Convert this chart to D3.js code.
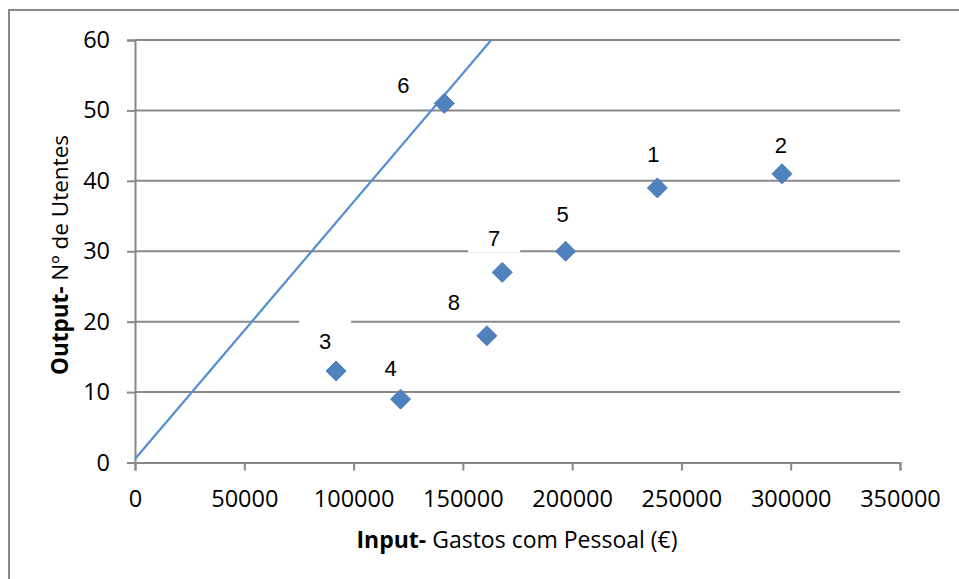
<!DOCTYPE html>
<html>
<head>
<meta charset="utf-8">
<script src="https://cdn.jsdelivr.net/npm/d3@7"></script>
<style>
  body { margin: 0; background: #fff; }
  svg { display: block; }
</style>
</head>
<body>
<div class="content"></div>
<script>
// data
const dmuNames = ['1', '2', '3', '4', '5', '6', '7', '8'];
const gastos = [239000, 296000, 92000, 121500, 197000, 141500, 168000, 161000];
const utentes = [39, 41, 13, 9, 30, 51, 27, 18];
const frontierX = [0, 163000];
const frontierY = [0.5, 60];
const xTicks = [0, 50000, 100000, 150000, 200000, 250000, 300000, 350000];
const yTicks = [0, 10, 20, 30, 40, 50, 60];

function main() {
  // svg settings
  const svgW = 959, svgH = 579;
  const svg = d3.select('.content').append('svg')
                                .attr('width', svgW)
                                .attr('height', svgH);
  const left = 135, right = 900, top = 40, bottom = 462.5;

  // outer frame of the chart
  svg.append('rect')
      .attr('x', 9).attr('y', 10)
      .attr('width', 960).attr('height', 580)
      .attr('fill', 'none')
      .attr('stroke', '#888')
      .attr('stroke-width', 2);

  const scaleX = d3.scaleLinear().domain([0, 350000]).range([left, right]);
  const scaleY = d3.scaleLinear().domain([0, 60]).range([bottom, top]);

  // horizontal gridlines
  svg.append('g').selectAll('line').data(yTicks.filter(d => d > 0)).enter()
      .append('line')
      .attr('x1', left).attr('x2', right)
      .attr('y1', d => scaleY(d)).attr('y2', d => scaleY(d))
      .attr('stroke', '#888').attr('stroke-width', 2);

  // axes
  const gx = svg.append('g')
      .attr('transform', 'translate(0,' + bottom + ')')
      .call(d3.axisBottom(scaleX).tickValues(xTicks).tickSize(8).tickPadding(15).tickFormat(d3.format('d')));
  const gy = svg.append('g')
      .attr('transform', 'translate(' + left + ',0)')
      .call(d3.axisLeft(scaleY).tickValues(yTicks).tickSize(8).tickPadding(17));
  [gx, gy].forEach(g => {
    g.select('.domain').attr('stroke', '#888').attr('stroke-width', 2);
    g.selectAll('.tick line').attr('stroke', '#888').attr('stroke-width', 2);
    g.selectAll('.tick text')
      .attr('font-family', 'Open Sans, sans-serif')
      .attr('font-size', 23.5)
      .attr('fill', '#000');
  });
  gx.selectAll('.tick text').attr('dy', '0.9em');

  // frontier line
  const frontier = frontierX.map((x, i) => [x, frontierY[i]]);
  svg.append('path').datum(frontier)
      .attr('d', d3.line().x(d => scaleX(d[0])).y(d => scaleY(d[1])))
      .attr('stroke', '#558ED5')
      .attr('stroke-width', 2.2)
      .attr('fill', 'none');

  // labels, manually placed like in the original
  const labelDx = [-4, -1, -11, -10, -3, -41, -8, -33];
  const labelDy = [-34, -29, -30, -31, -37, -18, -34, -34];
  const labelBox = [false, false, true, false, false, false, true, false];
  const pts = dmuNames.map((n, i) => ({ n, x: gastos[i], y: utentes[i], i }));

  const lab = svg.append('g').selectAll('g').data(pts).enter().append('g')
      .attr('transform', d => 'translate(' + (scaleX(d.x) + labelDx[d.i]) + ',' + (scaleY(d.y) + labelDy[d.i]) + ')');
  lab.filter(d => labelBox[d.i]).append('rect')
      .attr('x', -26).attr('y', -22).attr('width', 52).attr('height', 36)
      .attr('fill', '#fff');
  lab.append('text')
      .attr('text-anchor', 'middle')
      .attr('dy', '0.36em')
      .attr('font-family', 'Liberation Sans, Arial, sans-serif')
      .attr('font-size', 22)
      .text(d => d.n);

  // diamond markers
  svg.append('g').selectAll('path').data(pts).enter().append('path')
      .attr('d', 'M0,-10L10,0L0,10L-10,0Z')
      .attr('transform', d => 'translate(' + scaleX(d.x) + ',' + scaleY(d.y) + ')')
      .attr('fill', '#4F81BD')
      .attr('stroke', '#4A7EBB')
      .attr('stroke-width', 1);

  // axis titles
  const xt = svg.append('text')
      .attr('x', 517).attr('y', 548)
      .attr('text-anchor', 'middle')
      .attr('font-family', 'Open Sans, sans-serif')
      .attr('font-size', 23);
  xt.append('tspan').attr('font-weight', 'bold').text('Input-');
  xt.append('tspan').text(' Gastos com Pessoal (€)');

  const yt = svg.append('text')
      .attr('transform', 'translate(68,' + 255 + ') rotate(-90)')
      .attr('text-anchor', 'middle')
      .attr('font-family', 'Open Sans, sans-serif')
      .attr('font-size', 22.5);
  yt.append('tspan').attr('font-weight', 'bold').text('Output-');
  yt.append('tspan').text(' Nº de Utentes');
}
main();
</script>
</body>
</html>
